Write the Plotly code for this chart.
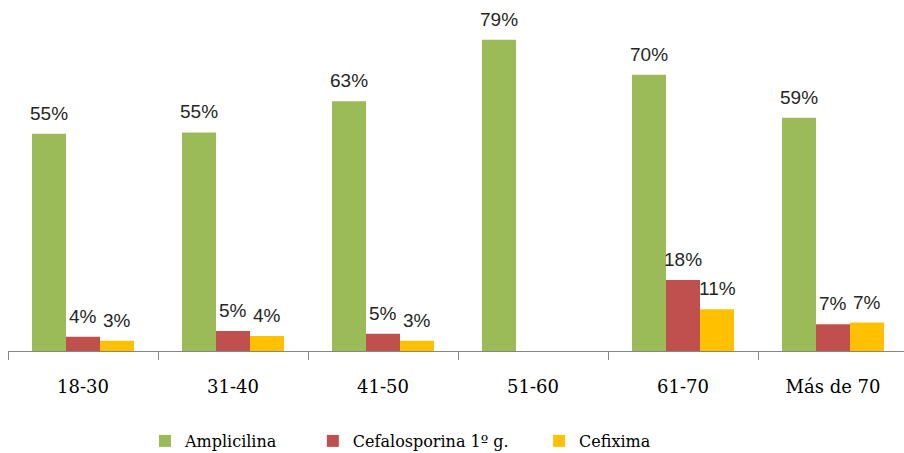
import plotly.graph_objects as go

categories = ["18-30", "31-40", "41-50", "51-60", "61-70", "Más de 70"]
series_names = ["Amplicilina", "Cefalosporina 1º g.", "Cefixima"]
amplicilina = [55.1, 55.4, 63.3, 78.9, 70.0, 59.1]
cefalosporina = [3.6, 5.1, 4.4, 0, 18.0, 6.8]
cefixima = [2.6, 3.8, 2.6, 0, 10.6, 7.2]
amplicilina_labels = ["55%", "55%", "63%", "79%", "70%", "59%"]
cefalosporina_labels = ["4%", "5%", "5%", "", "18%", "7%"]
cefixima_labels = ["3%", "4%", "3%", "", "11%", "7%"]

colors = ["#9BBB59", "#C0504D", "#FFC000"]
values = [amplicilina, cefalosporina, cefixima]
labels = [amplicilina_labels, cefalosporina_labels, cefixima_labels]
legend_pad = [6, 5, 0]  # trailing spacing in legend entries

W, H = 904, 453
ML, MB, MT = 8, 102, 5
cat_px = 150.0
bar_px = 34.0
px_per_unit = 3.945

fig = go.Figure()
for name, vals, col, pad in zip(series_names, values, colors, legend_pad):
    fig.add_trace(go.Bar(name=name + "\u00a0" * pad, x=categories, y=vals,
                         marker_color=col, marker_line_width=0))

offsets = [-bar_px, 0, bar_px]
for vals, labs, off in zip(values, labels, offsets):
    for c, v, t in zip(categories, vals, labs):
        if not t:
            continue
        fig.add_annotation(x=c, y=v, xref="x", yref="y", text=t, showarrow=False,
                           xshift=off, yanchor="bottom", yshift=8,
                           font=dict(family="Liberation Sans", size=19, color="#262626"))

plot_w = W - ML
plot_h = H - MB - MT
fig.update_layout(
    width=W, height=H,
    margin=dict(l=ML, r=0, t=MT, b=MB),
    paper_bgcolor="white", plot_bgcolor="white",
    barmode="group", bargap=1 - 3 * bar_px / cat_px, bargroupgap=0,
    showlegend=True,
    legend=dict(orientation="h", xref="container", yref="container",
                x=0.443, xanchor="center", y=12 / H, yanchor="middle",
                font=dict(family="DejaVu Serif", size=16, color="#000000"),
                itemclick=False),
    xaxis=dict(range=[-0.5, -0.5 + plot_w / cat_px], showline=True,
               linecolor="#868686", linewidth=1, ticks="outside", tickson="boundaries",
               ticklen=8, tickcolor="#868686", tickwidth=1, ticklabelstandoff=19,
               tickfont=dict(family="DejaVu Serif", size=18, color="#000000"),
               showgrid=False, zeroline=False, fixedrange=True),
    yaxis=dict(range=[0, plot_h / px_per_unit], visible=False, showgrid=False,
               zeroline=False, fixedrange=True),
)

fig.write_html("out.html")
